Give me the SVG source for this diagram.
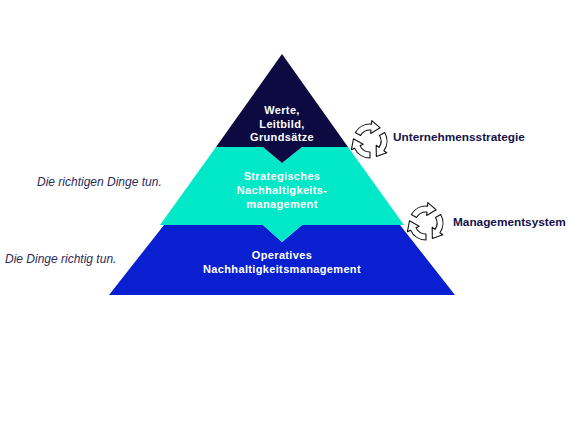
<svg xmlns="http://www.w3.org/2000/svg" width="568" height="427" viewBox="0 0 568 427">
<style>
.in{font-family:"Liberation Sans",Arial,sans-serif;font-weight:bold;font-size:11px;fill:#ffffff;text-anchor:middle;letter-spacing:0.35px}
.lab{font-family:"Liberation Sans",Arial,sans-serif;font-weight:bold;font-size:11.8px;fill:#14124a}
.it{font-family:"Liberation Sans",Arial,sans-serif;font-style:italic;font-size:12px;fill:#2b2a5c}
.arr{fill:#ffffff;stroke:#111111;stroke-width:1.1;stroke-linejoin:round}
</style>
<defs>
<path id="ca" class="arr" d="M -14.7 -8.5 A 17 17 0 0 1 1.5 -16.9 L 1.8 -20.4 L 10.2 -13.2 L 0.65 -7.5 L 1.0 -11.0 A 11 11 0 0 0 -9.5 -5.5 Z"/>
<g id="cycle">
<use href="#ca"/>
<use href="#ca" transform="rotate(120)"/>
<use href="#ca" transform="rotate(240)"/>
</g>
</defs>
<rect width="568" height="427" fill="#ffffff"/>
<g id="base">
<polygon points="164,225 263,225 282,242 302,225 400,225 455,295 109,295" fill="#0a1fcf"/>
<text class="in" x="282" y="259">Operatives</text>
<text class="in" x="282" y="273">Nachhaltigkeitsmanagement</text>
</g>
<g id="middle">
<polygon points="216,147 263,147 282,163 302,147 348,147 404,225 302,225 282,242 263,225 160,225" fill="#00e8c8"/>
<text class="in" x="282" y="180">Strategisches</text>
<text class="in" x="282" y="194">Nachhaltigkeits-</text>
<text class="in" x="282" y="208">management</text>
</g>
<g id="top">
<polygon points="282,54 348,147 302,147 282,163 263,147 216,147" fill="#0c0a40"/>
<text class="in" x="282" y="114">Werte,</text>
<text class="in" x="282" y="127.5">Leitbild,</text>
<text class="in" x="282" y="141">Grundsätze</text>
</g>
<g id="connectors">
<use href="#cycle" transform="translate(370,141)"/>
<use href="#cycle" transform="translate(426,223)"/>
</g>
<g id="labels">
<text class="lab" x="393" y="141">Unternehmensstrategie</text>
<text class="lab" x="453" y="226">Managementsystem</text>
<text class="it" x="37" y="186">Die richtigen Dinge tun.</text>
<text class="it" x="5" y="263">Die Dinge richtig tun.</text>
</g>
</svg>
